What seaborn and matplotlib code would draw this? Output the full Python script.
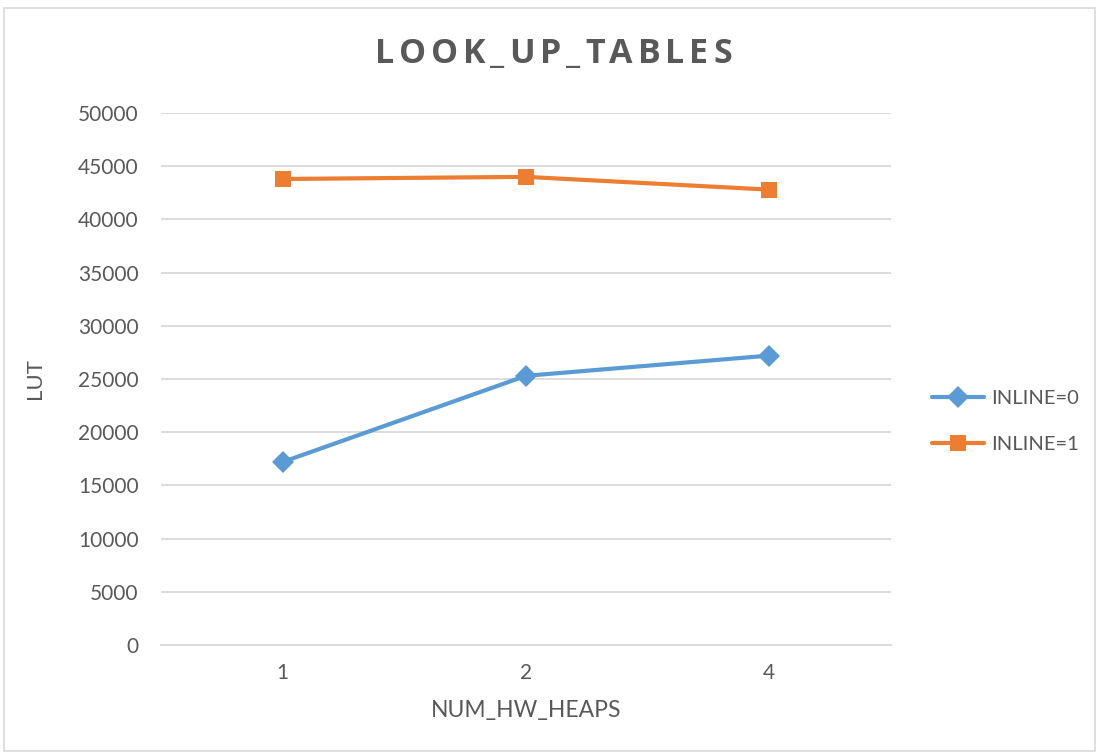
import matplotlib
matplotlib.use("Agg")
import matplotlib.pyplot as plt
import matplotlib.patches as mpatches
import seaborn as sns
import pandas as pd

# Values per configuration
heaps = ["1", "2", "4"]
inline0 = [17200, 25300, 27200]
inline1 = [43800, 44000, 42800]
series_names = ["INLINE=0", "INLINE=1"]
title = "LOOK_UP_TABLES"

df = pd.DataFrame({
    "NUM_HW_HEAPS": heaps * 2,
    "LUT": inline0 + inline1,
    "series": [series_names[0]] * 3 + [series_names[1]] * 3,
})

sns.set_theme(style="white")
plt.rcParams["font.family"] = ["Lato", "DejaVu Sans"]

text_color = "#595959"
grid_color = "#D9D9D9"
palette = {"INLINE=0": "#5B9BD5", "INLINE=1": "#ED7D31"}

fig = plt.figure(figsize=(10.99, 7.54), dpi=100)
ax = fig.add_axes([0.1465, 0.1446, 0.6642, 0.7055])

sns.lineplot(
    data=df, x="NUM_HW_HEAPS", y="LUT", hue="series", style="series",
    palette=palette, markers={"INLINE=0": "D", "INLINE=1": "s"},
    dashes=False, linewidth=3, markersize=11, markeredgewidth=0,
    sort=False, ax=ax,
)

ax.set_xlim(-0.5, 2.5)
ax.set_ylim(0, 50000)
ax.set_yticks(range(0, 50001, 5000))
ax.yaxis.grid(True, color=grid_color, linewidth=1.3)
ax.set_axisbelow(True)
for side in ["top", "right", "left"]:
    ax.spines[side].set_visible(False)
ax.spines["bottom"].set_color(grid_color)
ax.spines["bottom"].set_linewidth(1.3)
ax.tick_params(axis="both", length=0, labelsize=15, colors=text_color)
ax.tick_params(axis="x", pad=13)
ax.tick_params(axis="y", pad=16)

ax.set_xlabel("NUM_HW_HEAPS", fontsize=16.5, color=text_color, labelpad=12)
ax.set_ylabel("LUT", fontsize=16, color=text_color, labelpad=24)

# Letter-spaced chart title, laid out one glyph at a time
renderer = fig.canvas.get_renderer()
title_width_px = 357
title_center_px = 553.5
glyphs = []
widths = []
for ch in title:
    t = fig.text(0, 0.928, ch, ha="left", va="center", fontsize=24.5,
                 fontweight="bold", color=text_color,
                 family=["Open Sans", "DejaVu Sans"])
    bb = t.get_window_extent(renderer)
    glyphs.append(t)
    widths.append(bb.width)
fig_w = fig.get_figwidth() * fig.dpi
spacing_px = max(0.0, (title_width_px - sum(widths)) / (len(title) - 1))
x = title_center_px - (sum(widths) + spacing_px * (len(title) - 1)) / 2
for t, w in zip(glyphs, widths):
    t.set_x(x / fig_w)
    x += w + spacing_px

handles, labels = ax.get_legend_handles_labels()
ax.legend(handles, labels, loc="center left", bbox_to_anchor=(1.031, 0.42),
          frameon=False, fontsize=14.5, labelcolor=text_color,
          handlelength=2.6, handletextpad=0.35, labelspacing=1.45)

# Thin frame around the whole chart
fig.patches.append(mpatches.Rectangle((0.004, 0.004), 0.992, 0.986,
                                      transform=fig.transFigure, fill=False,
                                      edgecolor=grid_color, linewidth=1.2))

fig.savefig("out.png", dpi=100, facecolor="white")
